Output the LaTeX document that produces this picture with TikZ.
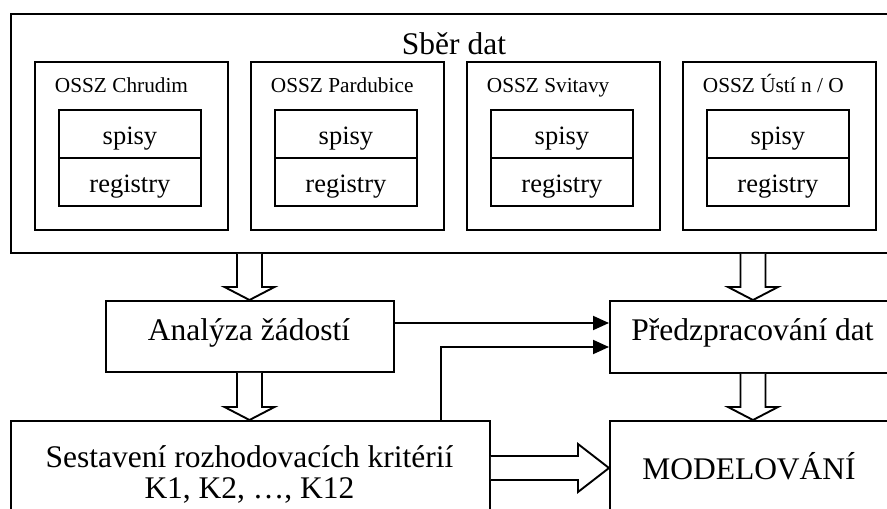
\documentclass[tikz,border=0pt]{standalone}
\usepackage{fontspec}
\setmainfont{Liberation Serif}
\usetikzlibrary{arrows.meta,calc}

\tikzset{
  box/.style={draw, line width=1.9pt, inner sep=0pt, anchor=north west},
  big/.style={font=\fontsize{31.5}{36}\selectfont, inner sep=0pt, anchor=base},
  mid/.style={font=\fontsize{26.5}{30}\selectfont, inner sep=0pt, anchor=base},
  small/.style={font=\fontsize{21.3}{24}\selectfont, inner sep=0pt, anchor=base west},
  thin arrow/.style={line width=1.9pt, -{Triangle[length=16pt,width=14pt]}},
  blockarrow/.style={draw, line width=1.9pt, fill=white, line join=miter},
}

% hollow arrow pointing down: x reference, source node, target node
\newcommand{\blockdown}[3]{%
  \path[blockarrow] let \p1=(#1 |- #2.south), \p2=(#1 |- #3.north) in
    (\x1-12.5pt,\y1) -- (\x1-12.5pt,\y2+13pt) -- (\x1-25pt,\y2+13pt) --
    (\x2,\y2) -- (\x1+25pt,\y2+13pt) -- (\x1+12.5pt,\y2+13pt) -- (\x1+12.5pt,\y1);
}

\begin{document}
\begin{tikzpicture}[x=1pt,y=-1pt]
\useasboundingbox (0,0) rectangle (887,509);
\clip (0,0) rectangle (887,509);

% data collection frame
\node[box, minimum width=888pt, minimum height=239pt] (sber) at (10,13) {};
\node[big] (sbertext) at (454,54) {Sběr dat};

% the four offices, each with its files and registers
\foreach \x/\nm/\lab in {34/a/{OSSZ Chrudim}, 250/b/{OSSZ Pardubice},
                         466/c/{OSSZ Svitavy}, 682/d/{OSSZ Ústí n / O}} {
  \node[box, minimum width=193pt, minimum height=168pt] (of\nm) at (\x,61) {};
  \node[small] (oft\nm) at (\x+20.7,92) {\lab};
  \node[box, minimum width=142pt, minimum height=48pt] (sp\nm) at (\x+24,109) {};
  \node[box, minimum width=142pt, minimum height=48pt] (rg\nm) at (\x+24,157) {};
  \node[mid] at ($(sp\nm.center)+(0,10.5)$) (spt\nm) {spisy};
  \node[mid] at ($(rg\nm.center)+(0,11)$) (rgt\nm) {registry};
}

% processing steps
\node[box, minimum width=288pt, minimum height=71pt] (analyza) at (105,300) {};
\node[big] (analyzat) at (249,340) {Analýza žádostí};

\node[box, minimum width=287pt, minimum height=72pt] (predz) at (609,300) {};
\node[big] (predzt) at (752.5,340) {Předzpracování dat};

\node[box, minimum width=479pt, minimum height=120pt] (sest) at (10,420) {};
\node[big] (sestt1) at (249.5,467) {Sestavení rozhodovacích kritérií};
\node[big] (sestt2) at (249.5,498) {K1, K2, …, K12};

\node[box, minimum width=287pt, minimum height=120pt] (model) at (609,420) {};
\node[big] (modelt) at (749,479) {MODELOVÁNÍ};

% hollow flow arrows
\coordinate (colL) at (249.5,0);
\coordinate (colR) at (753,0);
\blockdown{colL}{sber}{analyza}
\blockdown{colR}{sber}{predz}
\blockdown{colL}{analyza}{sest}
\blockdown{colR}{predz}{model}

\coordinate (rowM) at (0,468);
\path[blockarrow] let \p1=(sest.east |- rowM), \p2=(model.west |- rowM) in
  (\x1,\y1+12pt) -- (\x2-31pt,\y1+12pt) -- (\x2-31pt,\y1+24pt) --
  (\x2,\y1) -- (\x2-31pt,\y1-24pt) -- (\x2-31pt,\y1-12pt) -- (\x1,\y1-12pt);

% thin connectors into preprocessing
\coordinate (rowA) at (0,323);
\draw[thin arrow] (analyza.east |- rowA) -- (predz.west |- rowA);
\coordinate (kbend) at (441,347);
\draw[thin arrow] (kbend |- sest.north) -- (kbend) -- (kbend -| predz.west);
\end{tikzpicture}
\end{document}
